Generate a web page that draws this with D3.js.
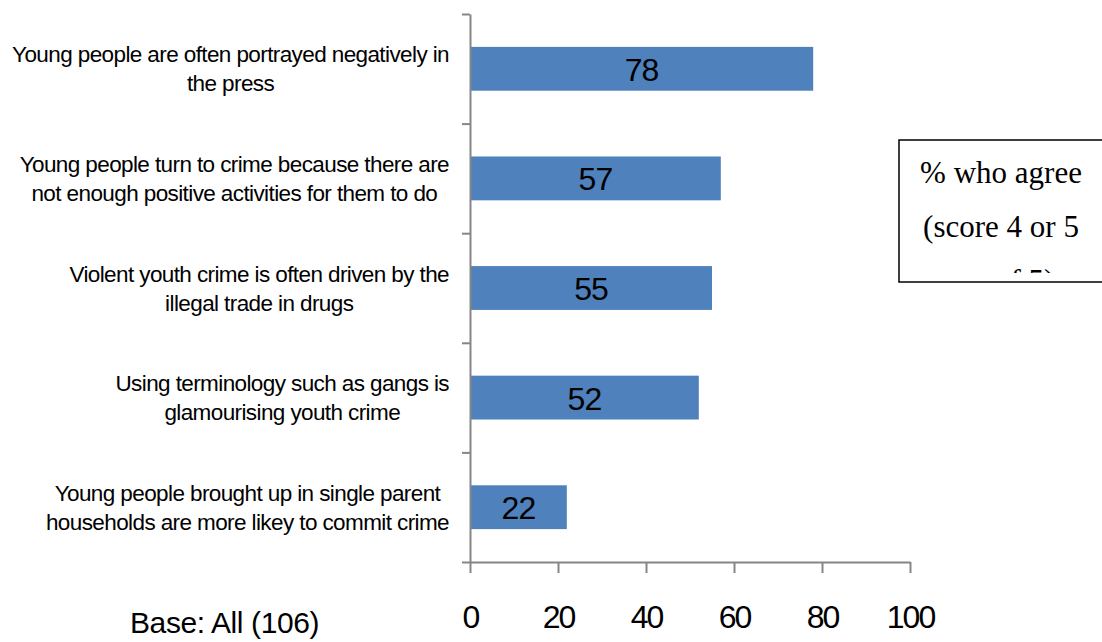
<!DOCTYPE html>
<html>
<head>
<meta charset="utf-8">
<script src="https://cdn.jsdelivr.net/npm/d3@7"></script>
<style>
  html, body { margin: 0; padding: 0; background: #fff; }
  svg { display: block; }
</style>
</head>
<body>
<svg id="chart" width="1102" height="642"></svg>
<script>
// ---- Data ----
const categories = [
  "Young people are often portrayed negatively in\nthe press",
  "Young people turn to crime because there are\nnot enough positive activities for them to do",
  "Violent youth crime is often driven by the\nillegal trade in drugs",
  "Using terminology such as gangs is\nglamourising youth crime",
  "Young people brought up in single parent\nhouseholds are more likey to commit crime"
];
const values = [78, 57, 55, 52, 22];
const xTicks = [0, 20, 40, 60, 80, 100];
const legendLines = ["% who agree", "(score 4 or 5", "out of 5)"];
const baseNote = "Base: All (106)";

// ---- Layout ----
const svg = d3.select("#chart");
const plotLeft = 470, plotRight = 910, plotTop = 14, plotBottom = 562;
const axisColor = "#868686";
const barColor = "#4f81bd";

const x = d3.scaleLinear().domain([0, 100]).range([plotLeft, plotRight]);
const y = d3.scaleBand().domain(categories).range([plotTop, plotBottom])
  .paddingInner(0.6).paddingOuter(0.3);
const yEdges = d3.scaleLinear().domain([0, categories.length]).range([plotTop, plotBottom]);

// Bars
svg.append("g").selectAll("rect").data(values).join("rect")
  .attr("x", x(0))
  .attr("y", (d, i) => y(categories[i]))
  .attr("width", d => x(d) - x(0))
  .attr("height", y.bandwidth())
  .attr("fill", barColor);

// Value labels
svg.append("g").selectAll("text").data(values).join("text")
  .attr("x", d => (x(0) + x(d)) / 2)
  .attr("y", (d, i) => y(categories[i]) + y.bandwidth() / 2 + 12)
  .attr("text-anchor", "middle")
  .attr("font-family", "Liberation Sans, Arial, sans-serif")
  .attr("font-size", 32)
  .attr("letter-spacing", -1)
  .attr("fill", "#000")
  .text(d => d);

// Y axis (ticks at category boundaries)
const yAxis = svg.append("g").attr("transform", `translate(${plotLeft},0)`)
  .call(d3.axisLeft(yEdges).tickValues(d3.range(categories.length + 1)).tickFormat("").tickSize(8).tickSizeOuter(0));
yAxis.selectAll("path, line").attr("stroke", axisColor).attr("stroke-width", 2);

// X axis
const xAxis = svg.append("g").attr("transform", `translate(0,${plotBottom})`)
  .call(d3.axisBottom(x).tickValues(xTicks).tickSize(11).tickSizeOuter(0));
xAxis.selectAll("path, line").attr("stroke", axisColor).attr("stroke-width", 2);
xAxis.selectAll("text")
  .attr("y", 66).attr("dy", null)
  .attr("font-family", "Liberation Sans, Arial, sans-serif")
  .attr("font-size", 32)
  .attr("letter-spacing", -2)
  .attr("fill", "#000");

// Category labels: block centred, right edge of widest line at 449
const labelRight = 449, lineGap = 29;
const lg = svg.append("g")
  .attr("font-family", "Liberation Sans, Arial, sans-serif")
  .attr("font-size", 22.5)
  .attr("letter-spacing", -0.6)
  .attr("fill", "#000");
categories.forEach(cat => {
  const lines = cat.split("\n");
  const cy = y(cat) + y.bandwidth() / 2;
  const t = lg.append("text").attr("text-anchor", "middle");
  const spans = lines.map((ln, j) => t.append("tspan")
    .attr("y", cy + (j - (lines.length - 1) / 2) * lineGap + 8)
    .text(ln));
  const maxW = d3.max(spans, s => s.node().getComputedTextLength());
  spans.forEach(s => s.attr("x", labelRight - maxW / 2));
});

// Legend box
const bx = 899, by = 140, bw = 206, bh = 142;
svg.append("defs").append("clipPath").attr("id", "legclip")
  .append("rect").attr("x", bx).attr("y", by).attr("width", bw).attr("height", 133);
svg.append("rect").attr("x", bx).attr("y", by).attr("width", bw).attr("height", bh)
  .attr("fill", "#fff").attr("stroke", "#000").attr("stroke-width", 1.5);
svg.append("g").attr("clip-path", "url(#legclip)")
  .selectAll("text").data(legendLines).join("text")
  .attr("x", 1001)
  .attr("y", (d, i) => 183 + i * 54)
  .attr("text-anchor", "middle")
  .attr("font-family", "Liberation Serif, Times New Roman, serif")
  .attr("font-size", 31)
  .attr("fill", "#000")
  .text(d => d);

// Base note
svg.append("text")
  .attr("x", 130).attr("y", 633)
  .attr("font-family", "Liberation Sans, Arial, sans-serif")
  .attr("font-size", 30)
  .attr("letter-spacing", -0.4)
  .attr("fill", "#000")
  .text(baseNote);
</script>
</body>
</html>
